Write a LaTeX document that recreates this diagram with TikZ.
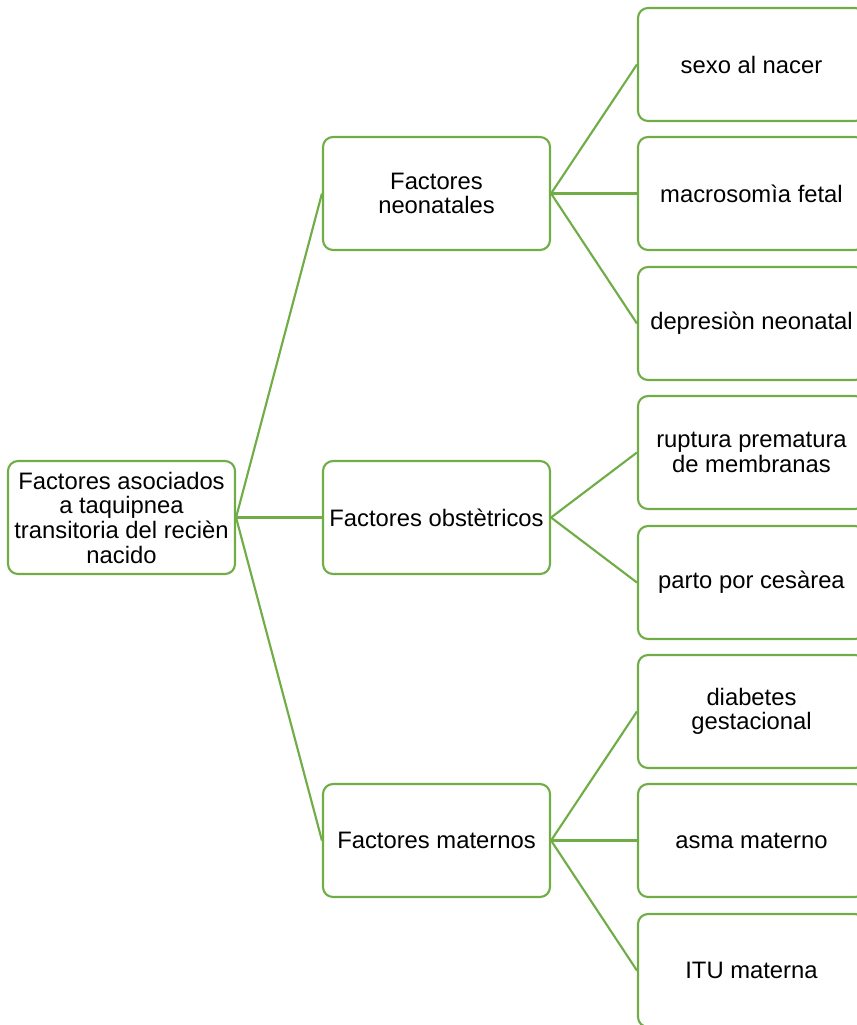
\documentclass[tikz,border=0pt]{standalone}
\usepackage{fontspec}
\setmainfont{Liberation Sans}
\definecolor{grn}{HTML}{70AD47}
\begin{document}
\begin{tikzpicture}[x=0.75pt,y=-0.75pt,
  box/.style={draw=grn, line width=1.6pt, rounded corners=7.5pt, fill=white,
    minimum width=170.25pt, minimum height=84.75pt, inner sep=0pt, align=center,
    font=\fontsize{17.85}{18.5}\selectfont},
  link/.style={draw=grn, line width=1.6pt}]
\useasboundingbox (0,0) rectangle (857,1025);
\clip (0,0) rectangle (857,1025);
\node[box] (root) at (121.5,517.5) {Factores asociados\\a taquipnea\\transitoria del recièn\\nacido};
\node[box] (neo) at (436.5,193.5) {Factores\\neonatales};
\node[box] (obs) at (436.5,517.5) {Factores obstètricos};
\node[box] (mat) at (436.5,840.5) {Factores maternos};
\node[box] (r1) at (751.5,64.5) {sexo al nacer};
\node[box] (r2) at (751.5,193.5) {macrosomìa fetal};
\node[box] (r3) at (751.5,323.5) {depresiòn neonatal};
\node[box] (r4) at (751.5,452.5) {ruptura prematura\\de membranas};
\node[box] (r5) at (751.5,582.5) {parto por cesàrea};
\node[box] (r6) at (751.5,711.5) {diabetes\\gestacional};
\node[box] (r7) at (751.5,840.5) {asma materno};
\node[box] (r8) at (751.5,970.5) {ITU materna};
\foreach \m in {neo,obs,mat} \draw[link] (root.east) -- (\m.west);
\foreach \r in {r1,r2,r3} \draw[link] (neo.east) -- (\r.west);
\foreach \r in {r4,r5} \draw[link] (obs.east) -- (\r.west);
\foreach \r in {r6,r7,r8} \draw[link] (mat.east) -- (\r.west);
\end{tikzpicture}
\end{document}
